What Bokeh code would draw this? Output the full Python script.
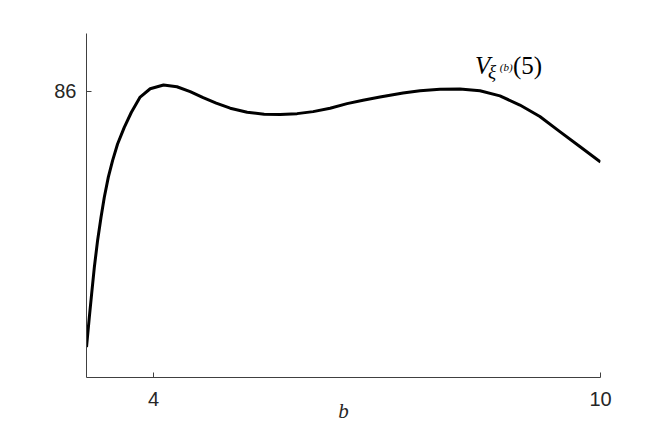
from bokeh.plotting import figure
from bokeh.models import Range1d, FixedTicker, Label
from bokeh.embed import file_html
from bokeh.resources import INLINE

# data
b_vals = [3.1, 3.138, 3.169, 3.205, 3.249, 3.295, 3.339, 3.393, 3.450, 3.517,
          3.607, 3.701, 3.820, 3.955, 4.134, 4.314, 4.492, 4.666, 4.841, 5.029,
          5.257, 5.485, 5.700, 5.927, 6.142, 6.370, 6.598, 6.812, 7.040, 7.349,
          7.577, 7.845, 8.113, 8.382, 8.650, 8.918, 9.186, 9.454, 9.722, 10.0]
v_vals = [77.06, 78.11, 78.92, 79.85, 80.79, 81.60, 82.30, 83.00, 83.58, 84.16,
          84.74, 85.26, 85.80, 86.09, 86.22, 86.16, 85.99, 85.78, 85.59, 85.41,
          85.27, 85.20, 85.19, 85.22, 85.29, 85.41, 85.57, 85.69, 85.80, 85.94,
          86.02, 86.07, 86.08, 86.02, 85.84, 85.52, 85.12, 84.59, 84.07, 83.53]
x_ticks = [4, 10]
y_ticks = [86]

axis_col = "#404040"
text_col = "#262626"

p = figure(width=648, height=430, output_backend="svg", toolbar_location=None,
           x_range=Range1d(3.1, 10), y_range=Range1d(76, 88.02),
           min_border_left=86, min_border_top=33, min_border_right=48,
           min_border_bottom=53)
p.outline_line_color = None
p.grid.visible = False
p.background_fill_color = "white"
p.border_fill_color = "white"

for ax in (p.xaxis[0], p.yaxis[0]):
    ax.axis_line_color = axis_col
    ax.axis_line_width = 1
    ax.major_tick_in = 5
    ax.major_tick_out = 0
    ax.major_tick_line_color = axis_col
    ax.minor_tick_line_color = None
    ax.major_label_text_font = "Liberation Sans"
    ax.major_label_text_font_size = "20px"
    ax.major_label_text_color = text_col

p.xaxis.ticker = FixedTicker(ticks=x_ticks)
p.yaxis.ticker = FixedTicker(ticks=y_ticks)
p.xaxis.major_label_standoff = 14
p.yaxis.major_label_standoff = 10

p.xaxis.axis_label = "b"
p.xaxis.axis_label_text_font = "Liberation Serif"
p.xaxis.axis_label_text_font_style = "italic"
p.xaxis.axis_label_text_font_size = "21px"
p.xaxis.axis_label_text_color = text_col
p.xaxis.axis_label_standoff = -10

p.line(b_vals, v_vals, line_color="black", line_width=3, line_join="round")

serif = "Liberation Serif"
p.add_layout(Label(x=8.314, y=86.90, text="V", text_font=serif,
                   text_font_style="italic", text_font_size="25px",
                   text_color="black", text_baseline="alphabetic"))
p.add_layout(Label(x=8.49, y=86.68, text="ξ", text_font=serif,
                   text_font_style="italic", text_font_size="19px",
                   text_color="black", text_baseline="alphabetic"))
p.add_layout(Label(x=8.649, y=86.85, text="(b)", text_font=serif,
                   text_font_style="italic", text_font_size="11px",
                   text_color="black", text_baseline="alphabetic"))
p.add_layout(Label(x=8.824, y=86.90, text="(5)", text_font=serif,
                   text_font_size="25px",
                   text_color="black", text_baseline="alphabetic"))

open("out.html", "w").write(file_html(p, INLINE))
